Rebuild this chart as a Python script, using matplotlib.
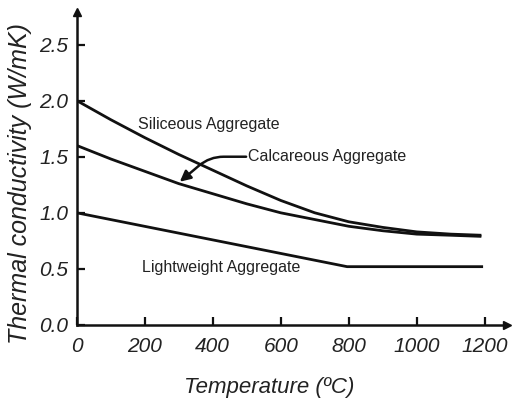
import matplotlib
matplotlib.use("Agg")
import matplotlib.pyplot as plt

plt.rcParams["font.family"] = ["Liberation Sans", "DejaVu Sans"]

# valori
temp = [0, 100, 200, 300, 400, 500, 600, 700, 800, 900, 1000, 1100, 1190]
siliceous = [2.00, 1.83, 1.67, 1.52, 1.38, 1.24, 1.11, 1.00, 0.92, 0.87, 0.83, 0.81, 0.80]
calcareous = [1.60, 1.48, 1.37, 1.26, 1.17, 1.08, 1.00, 0.94, 0.88, 0.84, 0.81, 0.80, 0.79]
temp_light = [0, 795, 1195]
lightweight = [1.00, 0.52, 0.52]

xticks = [0, 200, 400, 600, 800, 1000, 1200]
yticks = [0.0, 0.5, 1.0, 1.5, 2.0, 2.5]

fig = plt.figure(figsize=(5.12, 4.0), dpi=100)
ax = fig.add_axes([0.150, 0.1875, 0.840, 0.7825])

lw = 2.0
ax.plot(temp, siliceous, color="#111111", lw=lw, solid_capstyle="butt")
ax.plot(temp, calcareous, color="#111111", lw=lw, solid_capstyle="butt")
ax.plot(temp_light, lightweight, color="#111111", lw=lw, solid_capstyle="butt")

ax.set_xlim(0, 1265)
ax.set_ylim(0, 2.79)
ax.set_xticks(xticks)
ax.set_yticks(yticks)
ax.set_xticklabels([str(t) for t in xticks], fontstyle="italic", fontsize=15, color="#222222")
ax.set_yticklabels([f"{t:.1f}" for t in yticks], fontstyle="italic", fontsize=15, color="#222222")
ax.tick_params(axis="both", direction="in", length=6, width=1.6, color="#111111")
ax.tick_params(axis="x", pad=9)
ax.tick_params(axis="y", pad=6)

for s in ["top", "right"]:
    ax.spines[s].set_visible(False)
for s in ["left", "bottom"]:
    ax.spines[s].set_linewidth(1.8)
    ax.spines[s].set_color("#111111")

# sageti la capetele axelor
ax.plot(1, 0, ">", transform=ax.transAxes, color="#111111", ms=6, clip_on=False)
ax.plot(0, 1, "^", transform=ax.transAxes, color="#111111", ms=6, clip_on=False)

fig.text(269 / 512, 1 - 387 / 400, "Temperature (ºC)", fontstyle="italic", fontsize=16,
         color="#222222", ha="center", va="center")
fig.text(20 / 512, 1 - 184 / 400, "Thermal conductivity (W/mK)", fontstyle="italic",
         fontsize=18, color="#222222", ha="center", va="center", rotation=90)

ax.text(180, 1.79, "Siliceous Aggregate", fontsize=11.5, va="center", ha="left", color="#222222")
ax.text(191, 0.51, "Lightweight Aggregate", fontsize=11.5, va="center", ha="left", color="#222222")
ax.text(503, 1.50, "Calcareous Aggregate", fontsize=11.5, va="center", ha="left", color="#222222")
ax.annotate("", xy=(303, 1.277), xytext=(498, 1.50),
            arrowprops=dict(arrowstyle="-|>", color="#111111", lw=1.8,
                            connectionstyle="angle,angleA=0,angleB=40,rad=14",
                            shrinkA=0, shrinkB=0, mutation_scale=16))

fig.savefig("out.png", dpi=100)
